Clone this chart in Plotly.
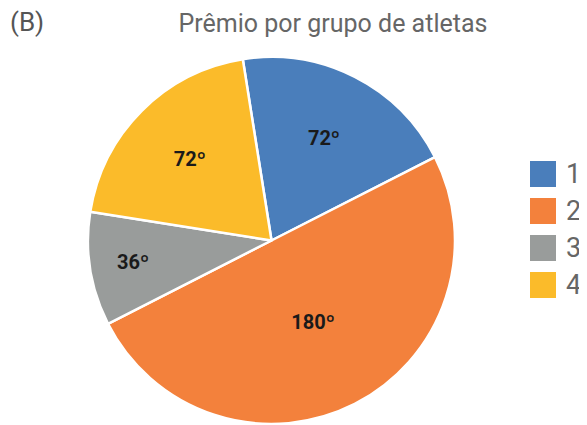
import plotly.graph_objects as go

categories = ["1", "2", "3", "4"]
values = [72, 180, 36, 72]
colors = ["#4a7ebb", "#f3813c", "#999c9b", "#fbbb2a"]
title_text = "Prêmio por grupo de atletas"
panel_label = "(B)"

# page body has an 8px margin, so the figure is drawn 8px in from the corner
OFF = 8
W, H = 587 - OFF, 425 - OFF


def px(x):
    return (x - OFF) / W


def py(y):
    return 1 - (y - OFF) / H


fig = go.Figure(go.Pie(
    labels=categories,
    values=values,
    sort=False,
    direction="clockwise",
    rotation=-9,
    marker=dict(colors=colors, line=dict(color="white", width=2.5)),
    texttemplate="%{value}º",
    textposition="inside",
    insidetextorientation="horizontal",
    textfont=dict(family="Roboto", size=20, color="#1a1a1a", weight="bold"),
    domain=dict(x=[px(88), px(455)], y=[py(424), py(57)]),
    showlegend=False,
    hoverinfo="label+value",
))

shapes = []
annotations = []
for i, (cat, col) in enumerate(zip(categories, colors)):
    y0 = 161 + 37 * i
    shapes.append(dict(type="rect", xref="paper", yref="paper",
                       x0=px(530), x1=px(556), y0=py(y0 + 26), y1=py(y0),
                       fillcolor=col, line=dict(width=0)))
    annotations.append(dict(text=cat, xref="paper", yref="paper",
                            x=px(564), y=py(y0 + 13), xanchor="left", yanchor="middle",
                            showarrow=False, font=dict(family="Roboto", size=27, color="#666666")))

annotations.append(dict(text=panel_label, xref="paper", yref="paper",
                        x=px(8), y=py(22), xanchor="left", yanchor="middle",
                        showarrow=False, font=dict(family="Roboto", size=26, color="#555555")))

fig.update_layout(
    width=W, height=H,
    margin=dict(l=0, r=0, t=0, b=0),
    paper_bgcolor="white",
    plot_bgcolor="white",
    title=dict(text=title_text, x=px(333), xanchor="center", y=py(23), yanchor="middle",
               xref="paper", yref="container",
               font=dict(family="Roboto", size=25, color="#666666")),
    shapes=shapes,
    annotations=annotations,
)

fig.write_html("out.html")
